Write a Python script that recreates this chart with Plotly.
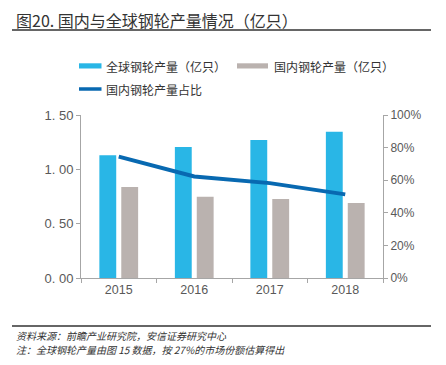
import plotly.graph_objects as go

years = ["2015", "2016", "2017", "2018"]
global_output = [1.13, 1.205, 1.27, 1.345]
domestic_output = [0.837, 0.748, 0.727, 0.69]
domestic_share = [0.745, 0.623, 0.582, 0.513]
left_tickvals = [0, 0.5, 1.0, 1.5]
left_ticktext = ["0. 00", "0. 50", "1. 00", "1. 50"]

W, H = 446, 365
L, R, T, B = 81, 383, 115, 278

C_GLOBAL = "#29B6E6"
C_DOM = "#BAB2AF"
C_LINE = "#0869B1"
AX = "#A6A6A6"
TXT = "#595959"
CJK = "Noto Sans CJK SC"


def px(x):
    return (x - L) / (R - L)


def py(y):
    return (B - y) / (B - T)


fig = go.Figure()
fig.add_trace(go.Bar(x=years, y=global_output, name="全球钢轮产量（亿只）",
                     marker=dict(color=C_GLOBAL, line=dict(width=0)), showlegend=False))
fig.add_trace(go.Bar(x=years, y=domestic_output, name="国内钢轮产量（亿只）",
                     marker=dict(color=C_DOM, line=dict(width=0)), showlegend=False))
fig.add_trace(go.Scatter(x=years, y=domestic_share, name="国内钢轮产量占比", yaxis="y2",
                         mode="lines", line=dict(color=C_LINE, width=4), showlegend=False))

shapes = []
annotations = []

# title + underline
annotations.append(dict(text="图20. 国内与全球钢轮产量情况（亿只）", xref="paper", yref="paper",
                        x=px(14), y=py(20), xanchor="left", yanchor="middle", showarrow=False,
                        font=dict(family=CJK, size=16, color="#333333")))
shapes.append(dict(type="line", xref="paper", yref="paper", x0=px(12), x1=px(431), y0=py(30), y1=py(30),
                   line=dict(color="#333333", width=1.5)))

# legend (manual)
shapes.append(dict(type="rect", xref="paper", yref="paper", x0=px(79), x1=px(101.5), y0=py(68.5), y1=py(63.3),
                   fillcolor=C_GLOBAL, line=dict(width=0)))
annotations.append(dict(text="全球钢轮产量（亿只）", xref="paper", yref="paper", x=px(104), y=py(66),
                        xanchor="left", yanchor="middle", showarrow=False,
                        font=dict(family=CJK, size=12, color="#333333")))
shapes.append(dict(type="rect", xref="paper", yref="paper", x0=px(237), x1=px(268), y0=py(68.5), y1=py(63.3),
                   fillcolor=C_DOM, line=dict(width=0)))
annotations.append(dict(text="国内钢轮产量（亿只）", xref="paper", yref="paper", x=px(272), y=py(66),
                        xanchor="left", yanchor="middle", showarrow=False,
                        font=dict(family=CJK, size=12, color="#333333")))
shapes.append(dict(type="line", xref="paper", yref="paper", x0=px(79), x1=px(101.5), y0=py(89), y1=py(89),
                   line=dict(color=C_LINE, width=3.5)))
annotations.append(dict(text="国内钢轮产量占比", xref="paper", yref="paper", x=px(104), y=py(89),
                        xanchor="left", yanchor="middle", showarrow=False,
                        font=dict(family=CJK, size=12, color="#333333")))

# footer
shapes.append(dict(type="line", xref="paper", yref="paper", x0=px(12), x1=px(431), y0=py(326), y1=py(326),
                   line=dict(color="#333333", width=1.5)))
annotations.append(dict(text="资料来源：前瞻产业研究院，安信证券研究中心",
                        xref="paper", yref="paper", x=px(14), y=py(335), xanchor="left", yanchor="middle",
                        showarrow=False, font=dict(family=CJK, size=10, color="#333333", style="italic")))
annotations.append(dict(text="注：全球钢轮产量由图 15 数据，按 27%的市场份额估算得出",
                        xref="paper", yref="paper", x=px(14), y=py(349.5), xanchor="left", yanchor="middle",
                        showarrow=False, font=dict(family=CJK, size=10, color="#333333", style="italic")))

fig.update_layout(
    width=W, height=H,
    margin=dict(l=L, r=W - R, t=T, b=H - B, pad=0),
    paper_bgcolor="white", plot_bgcolor="white",
    barmode="group", bargap=0.42, bargroupgap=0.23,
    font=dict(family="Liberation Sans, Arial, sans-serif", size=12.5, color=TXT),
    xaxis=dict(type="category", tickson="boundaries", ticks="outside", ticklen=4, tickcolor=AX,
               showline=True, linecolor=AX, linewidth=1, showgrid=False,
               tickfont=dict(size=12.5, color=TXT)),
    yaxis=dict(range=[0, 1.5], tickvals=left_tickvals, ticktext=left_ticktext, ticks="outside",
               ticklen=4, tickcolor=AX, showline=True, linecolor=AX, linewidth=1, showgrid=False,
               zeroline=False, tickfont=dict(size=13, color=TXT)),
    yaxis2=dict(range=[0, 1], overlaying="y", side="right", tickformat=".0%", dtick=0.2, tick0=0,
                ticks="outside", ticklen=4, tickcolor=AX, showline=True, linecolor=AX, linewidth=1,
                showgrid=False, zeroline=False, tickfont=dict(size=12, color=TXT)),
    shapes=shapes, annotations=annotations,
)

fig.write_html("out.html", config={"displayModeBar": False},
               post_script="document.body.style.margin='0';document.body.style.overflow='hidden';")
